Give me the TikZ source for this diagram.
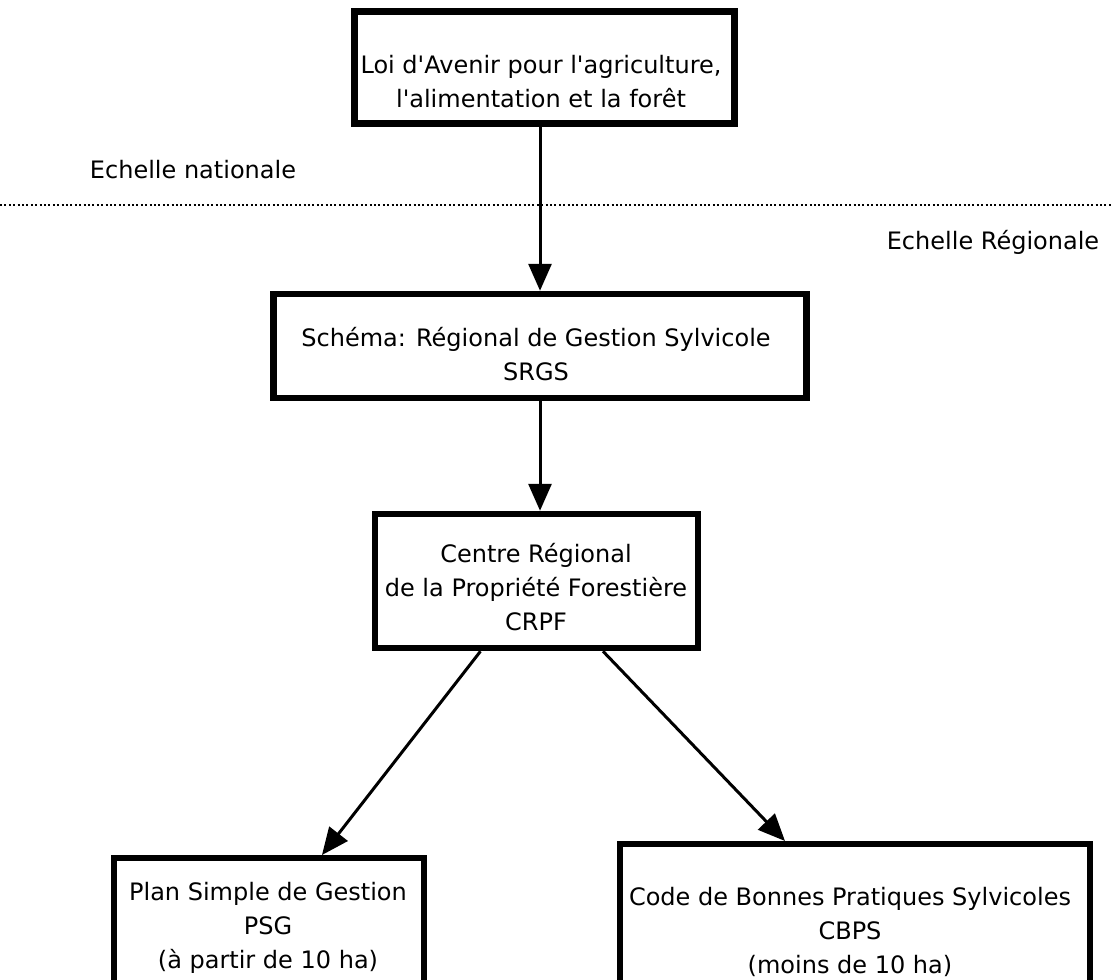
\documentclass[tikz,border=0pt]{standalone}
\usepackage{fontspec}
\setmainfont{DejaVu Sans}[Ligatures=TeXOff]
\usetikzlibrary{arrows.meta,calc}
\begin{document}
\begin{tikzpicture}[x=1pt,y=-1pt,
  box/.style={draw=black,fill=white,rectangle,inner sep=0pt},
  txt/.style={align=center,inner sep=0pt,font=\fontsize{24}{34}\selectfont},
  lbl/.style={inner sep=0pt,font=\fontsize{24}{34}\selectfont},
  conn/.style={line width=3pt,-{Triangle[length=27pt,width=23pt]}},
  sep/.style={line width=2pt,dash pattern=on 2pt off 2.4pt}]
\useasboundingbox (0,0) rectangle (1112,980);
\node[box,line width=7.5pt,minimum width=380pt,minimum height=112pt] (loi) at (544.5,67.5) {};
\node[txt] (loit) at (541,82) {Loi d'Avenir pour l'agriculture,\\l'alimentation et la forêt};
\node[lbl] (nat) at (193,170) {Echelle nationale};
\node[lbl] (reg) at (993,242) {Echelle Régionale};
\coordinate (sepL) at (0,205);
\coordinate (sepR) at (1112,205);
\draw[sep] (sepL) -- (sepR);
\node[box,line width=6.5pt,minimum width=533pt,minimum height=104pt] (srgs) at (540,346) {};
\node[txt] (srgst) at (536,354) {Schéma: Régional de Gestion Sylvicole\\SRGS};
\node[box,line width=6.5pt,minimum width=323pt,minimum height=134pt] (crpf) at (536.5,581) {};
\node[txt] (crpft) at (536,587) {Centre Régional\\de la Propriété Forestière\\CRPF};
\node[box,line width=6pt,minimum width=310pt,minimum height=136pt] (psg) at (268.5,926) {};
\node[txt] (psgt) at (268,928) {Plan Simple de Gestion\\PSG\\(à partir de 10 ha)};
\node[box,line width=6pt,minimum width=470pt,minimum height=166pt] (cbps) at (855,927) {};
\node[txt] (cbpst) at (850,932) {Code de Bonnes Pratiques Sylvicoles\\CBPS\\(moins de 10 ha)};
\draw[conn] (srgs.north |- loi.south) -- (srgs.north);
\draw[conn] (srgs.south) -- (srgs.south |- crpf.north);
\draw[conn] ($(crpf.south)+(-56,0)$) -- ($(psg.north)+(53.5,0)$);
\draw[conn] ($(crpf.south)+(66.5,0)$) -- ($(cbps.north)+(-70,0)$);
\end{tikzpicture}
\end{document}
